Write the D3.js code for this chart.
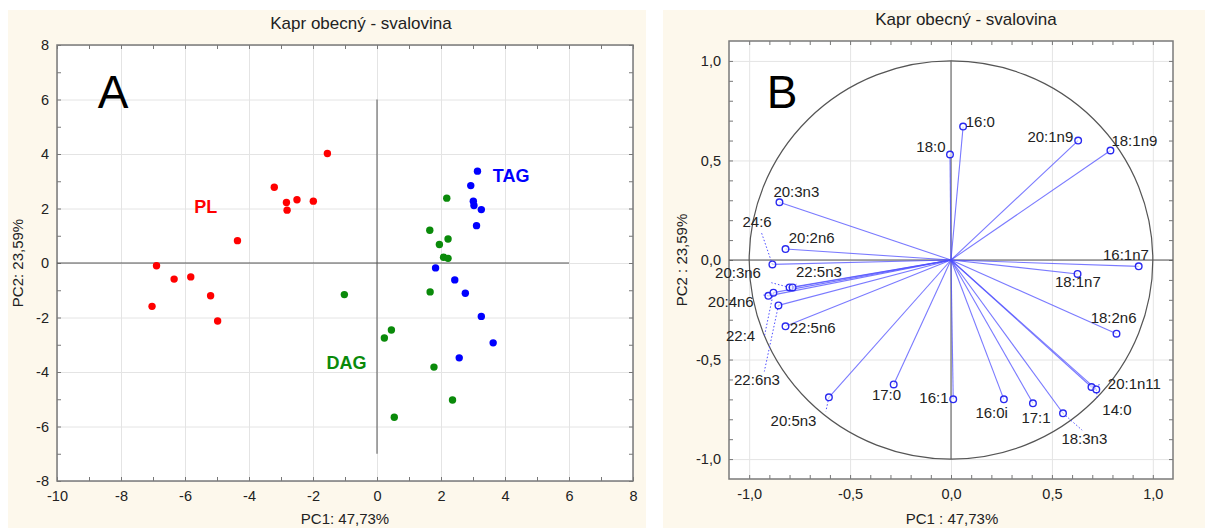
<!DOCTYPE html>
<html>
<head>
<meta charset="utf-8">
<script src="https://cdn.jsdelivr.net/npm/d3@7"></script>
<style>
  body { margin: 0; background: #fff; }
  svg { display: block; font-family: "Liberation Sans", Arial, sans-serif; }
</style>
</head>
<body>
<svg id="chart" width="1205" height="528"></svg>
<script>
// Panel A — scores (PC1, PC2) per lipid class
const plPC1  = [-1.55, -3.21, -2.83, -2.81, -2.50, -1.99, -4.36, -6.89, -6.34, -5.82, -5.20, -7.03, -4.98];
const plPC2  = [ 4.02,  2.78,  2.22,  1.94,  2.32,  2.27,  0.82, -0.10, -0.59, -0.51, -1.20, -1.59, -2.13];
const dagPC1 = [-1.02, 2.18, 1.65, 1.95, 2.22, 2.08, 2.22, 1.66, 0.45, 0.23, 1.78, 2.36, 0.54];
const dagPC2 = [-1.16, 2.38, 1.20, 0.68, 0.88, 0.21, 0.17, -1.06, -2.46, -2.75, -3.82, -5.03, -5.66];
const tagPC1 = [3.14, 2.93, 3.01, 3.03, 3.26, 3.11, 1.83, 2.43, 2.76, 3.26, 3.63, 2.57];
const tagPC2 = [3.37, 2.84, 2.27, 2.11, 1.96, 1.37, -0.18, -0.62, -1.11, -1.96, -2.93, -3.48];
const groupNames = ["PL", "DAG", "TAG"];
const groupLabelAt = [[-5.35, 2.04], [-0.95, -3.67], [4.19, 3.2]];

const ticksAx = [-10, -8, -6, -4, -2, 0, 2, 4, 6, 8];
const ticksAy = [-8, -6, -4, -2, 0, 2, 4, 6, 8];

// Panel B — loadings of fatty acids
const fattyAcids = ["16:0", "18:0", "20:1n9", "18:1n9", "20:3n3", "20:2n6", "24:6", "20:3n6",
  "22:5n3", "20:4n6", "22:4", "22:6n3", "22:5n6", "16:1n7", "18:1n7", "18:2n6",
  "20:5n3", "17:0", "16:1", "16:0i", "17:1", "18:3n3", "20:1n11", "14:0"];
const loadPC1 = [0.06, -0.005, 0.63, 0.79, -0.85, -0.82, -0.885, -0.80,
  -0.785, -0.905, -0.88, -0.855, -0.82, 0.93, 0.627, 0.82,
  -0.605, -0.284, 0.011, 0.262, 0.406, 0.555, 0.696, 0.72];
const loadPC2 = [0.67, 0.53, 0.60, 0.55, 0.29, 0.055, -0.022, -0.138,
  -0.138, -0.18, -0.164, -0.228, -0.333, -0.032, -0.07, -0.37,
  -0.69, -0.625, -0.70, -0.70, -0.72, -0.77, -0.638, -0.65];
const ticksB = [-1.0, -0.5, 0.0, 0.5, 1.0];

// label placement for panel B (data units: text start, baseline) + dotted leader end
const labelPos = {
  "16:0": [0.073, 0.67], "18:0": [-0.027, 0.544, "end"], "20:1n9": [0.606, 0.594, "end"],
  "18:1n9": [0.795, 0.574], "20:3n3": [-0.88, 0.317], "20:2n6": [-0.804, 0.086],
  "24:6": [-1.033, 0.164], "20:3n6": [-1.169, -0.09], "22:5n3": [-0.768, -0.086],
  "20:4n6": [-1.205, -0.237], "22:4": [-1.115, -0.409], "22:6n3": [-1.075, -0.626],
  "22:5n6": [-0.799, -0.367], "16:1n7": [0.753, 0.002], "18:1n7": [0.515, -0.136],
  "18:2n6": [0.692, -0.314], "20:5n3": [-0.894, -0.833], "17:0": [-0.392, -0.702],
  "16:1": [-0.157, -0.719], "16:0i": [0.121, -0.795], "17:1": [0.349, -0.82],
  "18:3n3": [0.547, -0.924], "20:1n11": [0.777, -0.648], "14:0": [0.75, -0.778]
};
const leaderTo = {
  "24:6": [-0.94, 0.14], "20:3n6": [-0.89, -0.114], "20:4n6": [-0.93, -0.176],
  "22:4": [-0.925, -0.385], "22:6n3": [-0.925, -0.56], "20:5n3": [-0.62, -0.76],
  "18:3n3": [0.65, -0.855], "14:0": [0.725, -0.70], "20:1n11": [0.74, -0.625],
  "22:5n3": [-0.76, -0.117]
};

const CREAM = "#fdf8ec";
const INK = "#222";
const svg = d3.select("#chart");

svg.append("rect").attr("x", 8).attr("y", 10).attr("width", 638).attr("height", 518).attr("fill", CREAM);
svg.append("rect").attr("x", 663).attr("y", 10).attr("width", 542).attr("height", 518).attr("fill", CREAM);

function frame(g, x, y, minorX, minorY, majorX, majorY, fmt) {
  const [x0, x1] = x.range(), [y1, y0] = y.range();
  const w = x1 - x0, h = y1 - y0;
  g.append("rect").attr("x", x0).attr("y", y0).attr("width", w).attr("height", h).attr("fill", "#fff");

  // grid
  g.append("g").attr("transform", `translate(0,${y1})`)
    .call(d3.axisBottom(x).tickValues(majorX).tickSize(-h).tickFormat(""))
    .call(a => a.select(".domain").remove())
    .call(a => a.selectAll("line").attr("stroke", "#e4e4e4"));
  g.append("g").attr("transform", `translate(${x0},0)`)
    .call(d3.axisLeft(y).tickValues(majorY).tickSize(-w).tickFormat(""))
    .call(a => a.select(".domain").remove())
    .call(a => a.selectAll("line").attr("stroke", "#e4e4e4"));

  // inward minor ticks on all four sides
  const sides = [
    [d3.axisBottom(x).tickValues(minorX), `translate(0,${y1})`],
    [d3.axisTop(x).tickValues(minorX), `translate(0,${y0})`],
    [d3.axisLeft(y).tickValues(minorY), `translate(${x0},0)`],
    [d3.axisRight(y).tickValues(minorY), `translate(${x1},0)`]
  ];
  sides.forEach(([ax, tr]) => {
    g.append("g").attr("transform", tr)
      .call(ax.tickSize(-4).tickFormat(""))
      .call(a => a.select(".domain").remove())
      .call(a => a.selectAll("line").attr("stroke", "#777"));
  });

  // tick labels
  g.append("g").attr("transform", `translate(0,${y1})`)
    .call(d3.axisBottom(x).tickValues(majorX).tickSize(0).tickPadding(10).tickFormat(fmt))
    .call(a => a.select(".domain").remove())
    .call(a => a.selectAll("text").attr("font-size", 14.5).attr("fill", INK).attr("font-family", "Liberation Sans, Arial"));
  g.append("g").attr("transform", `translate(${x0},0)`)
    .call(d3.axisLeft(y).tickValues(majorY).tickSize(0).tickPadding(8).tickFormat(fmt))
    .call(a => a.select(".domain").remove())
    .call(a => a.selectAll("text").attr("font-size", 14.5).attr("fill", INK).attr("font-family", "Liberation Sans, Arial"));

  g.append("rect").attr("x", x0).attr("y", y0).attr("width", w).attr("height", h)
    .attr("fill", "none").attr("stroke", "#7a7a7a").attr("stroke-width", 1.5);
}

/* ---------------- Panel A ---------------- */
const xA = d3.scaleLinear().domain([-10, 8]).range([57, 633]);
const yA = d3.scaleLinear().domain([-8, 8]).range([481, 45]);
const gA = svg.append("g");
const fmtA = d => String(d);
frame(gA, xA, yA, d3.range(-10, 9, 1), d3.range(-8, 9, 1), ticksAx, ticksAy, fmtA);

gA.append("line").attr("x1", xA(-10)).attr("x2", xA(6)).attr("y1", yA(0)).attr("y2", yA(0))
  .attr("stroke", "#555").attr("stroke-width", 1);
gA.append("line").attr("x1", xA(0)).attr("x2", xA(0)).attr("y1", yA(6)).attr("y2", yA(-7))
  .attr("stroke", "#555").attr("stroke-width", 1);

const groups = [
  { xs: plPC1, ys: plPC2, color: "#ff0000" },
  { xs: dagPC1, ys: dagPC2, color: "#0a8a0a" },
  { xs: tagPC1, ys: tagPC2, color: "#0000ff" }
];
groups.forEach((grp, gi) => {
  gA.append("g").selectAll("circle")
    .data(grp.xs.map((v, i) => [v, grp.ys[i]]))
    .join("circle")
    .attr("cx", d => xA(d[0])).attr("cy", d => yA(d[1]))
    .attr("r", 3.7).attr("fill", grp.color);
  gA.append("text")
    .attr("x", xA(groupLabelAt[gi][0])).attr("y", yA(groupLabelAt[gi][1]))
    .attr("text-anchor", "middle").attr("dominant-baseline", "central")
    .attr("font-size", 18).attr("font-weight", "bold").attr("fill", grp.color)
    .text(groupNames[gi]);
});

gA.append("text").attr("x", 113).attr("y", 108).attr("text-anchor", "middle")
  .attr("font-size", 46).attr("fill", "#000").text("A");
gA.append("text").attr("x", 361).attr("y", 29).attr("text-anchor", "middle")
  .attr("font-size", 17).attr("fill", INK).text("Kapr obecný - svalovina");
gA.append("text").attr("x", 345).attr("y", 524).attr("text-anchor", "middle")
  .attr("font-size", 15).attr("fill", INK).text("PC1: 47,73%");
gA.append("text").attr("transform", "translate(23,263) rotate(-90)").attr("text-anchor", "middle")
  .attr("font-size", 15).attr("fill", INK).text("PC2: 23,59%");

/* ---------------- Panel B ---------------- */
const xB = d3.scaleLinear().domain([-1.1, 1.1]).range([729, 1173]);
const yB = d3.scaleLinear().domain([-1.1, 1.1]).range([479, 41]);
const gB = svg.append("g");
const fmtB = d => d3.format(".1f")(d).replace("\u2212", "-").replace(".", ",");
frame(gB, xB, yB, d3.range(-10, 11).map(v => v / 10), d3.range(-10, 11).map(v => v / 10), ticksB, ticksB, fmtB);

gB.append("line").attr("x1", xB(-1.1)).attr("x2", xB(1.1)).attr("y1", yB(0)).attr("y2", yB(0))
  .attr("stroke", "#555").attr("stroke-width", 1);
gB.append("line").attr("x1", xB(0)).attr("x2", xB(0)).attr("y1", yB(1)).attr("y2", yB(-1))
  .attr("stroke", "#555").attr("stroke-width", 1);
gB.append("ellipse").attr("cx", xB(0)).attr("cy", yB(0))
  .attr("rx", xB(1) - xB(0)).attr("ry", yB(0) - yB(1))
  .attr("fill", "none").attr("stroke", "#555").attr("stroke-width", 1.2);

const loadings = fattyAcids.map((n, i) => ({ name: n, x: loadPC1[i], y: loadPC2[i] }));

gB.append("g").selectAll("line")
  .data(loadings).join("line")
  .attr("x1", xB(0)).attr("y1", yB(0))
  .attr("x2", d => xB(d.x)).attr("y2", d => yB(d.y))
  .attr("stroke", "#4d4dff").attr("stroke-opacity", 0.75).attr("stroke-width", 1.1);

gB.append("g").selectAll("line")
  .data(loadings.filter(d => leaderTo[d.name])).join("line")
  .attr("x1", d => xB(d.x)).attr("y1", d => yB(d.y))
  .attr("x2", d => xB(leaderTo[d.name][0])).attr("y2", d => yB(leaderTo[d.name][1]))
  .attr("stroke", "#4d4dff").attr("stroke-width", 1).attr("stroke-dasharray", "1.5,2");

gB.append("g").selectAll("circle")
  .data(loadings).join("circle")
  .attr("cx", d => xB(d.x)).attr("cy", d => yB(d.y))
  .attr("r", 3.3).attr("fill", "#fff").attr("fill-opacity", 0.6)
  .attr("stroke", "#2a2af0").attr("stroke-width", 1.4);

gB.append("g").selectAll("text")
  .data(loadings).join("text")
  .attr("x", d => xB(labelPos[d.name][0])).attr("y", d => yB(labelPos[d.name][1]))
  .attr("text-anchor", d => labelPos[d.name][2] || "start")
  .attr("font-size", 15).attr("fill", INK)
  .text(d => d.name);

gB.append("text").attr("x", 782).attr("y", 108).attr("text-anchor", "middle")
  .attr("font-size", 46).attr("fill", "#000").text("B");
gB.append("text").attr("x", 966).attr("y", 25).attr("text-anchor", "middle")
  .attr("font-size", 17).attr("fill", INK).text("Kapr obecný - svalovina");
gB.append("text").attr("x", 952).attr("y", 524).attr("text-anchor", "middle")
  .attr("font-size", 15).attr("fill", INK).text("PC1 : 47,73%");
gB.append("text").attr("transform", "translate(687,260) rotate(-90)").attr("text-anchor", "middle")
  .attr("font-size", 15).attr("fill", INK).text("PC2 : 23,59%");
</script>
</body>
</html>
